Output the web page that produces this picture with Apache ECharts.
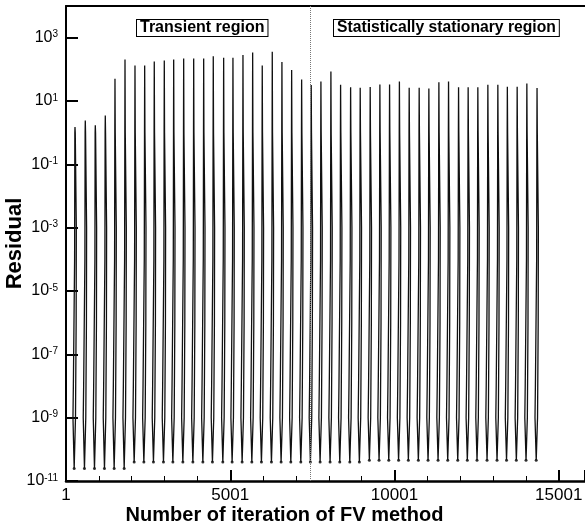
<!DOCTYPE html>
<html><head><meta charset="utf-8">
<script src="https://cdn.jsdelivr.net/npm/echarts@6/dist/echarts.min.js"></script>
<style>html,body{margin:0;padding:0;background:#fff}#c{width:585px;height:530px}</style>
</head><body><div id="c"></div>
<script>
// ---- data ----
// iteration at which each residual spike peaks
const spikeIter = [275,588,893,1197,1492,1797,2101,2396,2688,2993,3279,3583,3888,4192,4484,4800,
  5083,5388,5683,5975,6280,6574,6870,7174,7466,7761,8065,8360,8665,8957,9261,9556,
  9851,10150,10448,10752,11047,11352,11646,11951,12243,12538,12843,13147,13436,13735,14030,14340];
// peak residual of each spike
const spikePeak = [1.5,2.4,1.7,3.5,50,205,132,132,178,190,204,219,219,219,257,233,
  233,282,340,132,360,170,95,48,32,41.5,85,32.5,27,26,27.5,33,
  33,41,26,26,25,39,41,27,27,27,32.5,32.5,28,28,36,25.7];
// converged (floor) residual of each spike
const spikeFloor = [2.5e-11,2.5e-11,2.5e-11,2.5e-11,2.5e-11,2.5e-11,4e-11,4e-11,4e-11,4e-11,4e-11,4e-11,4e-11,4e-11,4e-11,4e-11,
  4e-11,4e-11,4e-11,4e-11,4e-11,4e-11,4e-11,4e-11,4e-11,4e-11,4e-11,4e-11,4e-11,4e-11,4.5e-11,4.5e-11,
  4.5e-11,4.5e-11,4.5e-11,4.5e-11,4.5e-11,4.5e-11,4.5e-11,4.5e-11,4.5e-11,4.5e-11,4.5e-11,4.5e-11,4.5e-11,4.5e-11,4.5e-11,4.5e-11];
// outline of one spike: [iteration offset from peak, residual level] ('P' = peak, 'B' = floor)
const spikeOutline = [[0,'P'],[-5,1e0],[-12,1e-4],[-50,1e-8],[-62,1e-9],[-25,'B'],[15,1e-9],[35,1e-6],[40,1e-3],[8,1e0],[0,'P']];
const xTickLabels = ['1','5001','10001','15001'];
const yTickExponents = [-11,-9,-7,-5,-3,-1,1,3];
const regionBoundary = 7450;
const regionNames = ['Transient region','Statistically stationary region'];

// ---- build series ----
const lineData = [];
spikeIter.forEach((p, i) => {
  spikeOutline.forEach(([dx, lv]) => {
    const v = lv === 'P' ? spikePeak[i] : (lv === 'B' ? spikeFloor[i] : lv);
    lineData.push([p + dx, v]);
  });
  lineData.push([p, '-']);
});
const floorData = spikeIter.map((p, i) => [p - 25, spikeFloor[i]]);

const FONT = '"Liberation Sans", Arial, Helvetica, sans-serif';
const chart = echarts.init(document.getElementById('c'), null, {renderer: 'canvas'});
chart.setOption({
  animation: false,
  backgroundColor: '#fff',
  grid: {left: 66, right: 0, top: 6, bottom: 49, containLabel: false, outerBoundsMode: 'none'},
  xAxis: [{
    type: 'value', min: 1, max: 15800, interval: 5000, position: 'bottom',
    axisLine: {show: true, onZero: false, lineStyle: {color: '#000', width: 2.5}},
    axisTick: {show: true, inside: true, length: 11, lineStyle: {color: '#000', width: 2}},
    minorTick: {show: true, splitNumber: 5, length: 5, lineStyle: {color: '#000', width: 1}},
    splitLine: {show: false}, minorSplitLine: {show: false},
    axisLabel: {color: '#000', fontSize: 17, fontFamily: FONT, margin: 6, showMaxLabel: false,
      formatter: v => (xTickLabels.indexOf(String(v)) >= 0 ? String(v) : '')},
    name: 'Number of iteration of FV method', nameLocation: 'middle', nameGap: 24, nameMoveOverlap: false,
    nameTextStyle: {color: '#000', fontSize: 20, fontWeight: 'bold', fontFamily: FONT, padding: [0, 82, 0, 0]}
  }, {
    type: 'value', min: 1, max: 15800, position: 'top',
    axisLine: {show: true, lineStyle: {color: '#000', width: 2}},
    axisTick: {show: false}, axisLabel: {show: false}, splitLine: {show: false}
  }],
  yAxis: {
    type: 'log', logBase: 10, min: 1e-11, max: 1e4, interval: 2,
    axisLine: {show: true, lineStyle: {color: '#000', width: 2}},
    axisTick: {show: true, inside: true, length: 12, lineStyle: {color: '#000', width: 2}},
    minorTick: {show: false}, splitLine: {show: false},
    axisLabel: {
      margin: 8, color: '#000',
      formatter: v => {
        const e = Math.round(Math.log10(v));
        return yTickExponents.indexOf(e) >= 0 ? '{b|10}{s|' + e + '}' : '';
      },
      rich: {
        b: {fontSize: 16, fontFamily: FONT, color: '#000'},
        s: {fontSize: 10, fontFamily: FONT, color: '#000', verticalAlign: 'top', padding: [0, 0, 0, 0]}
      }
    },
    name: 'Residual', nameLocation: 'middle', nameGap: 40, nameMoveOverlap: false,
    nameTextStyle: {color: '#000', fontSize: 22, fontWeight: 'bold', fontFamily: FONT}
  },
  series: [{
    type: 'line', data: lineData, showSymbol: false, symbol: 'none', connectNulls: false,
    lineStyle: {color: '#111', width: 1.3}, silent: true,
    markLine: {
      silent: true, symbol: ['none', 'none'], label: {show: false},
      lineStyle: {type: 'dotted', color: '#777', width: 1},
      data: [{xAxis: regionBoundary}]
    }
  }, {
    type: 'scatter', data: floorData, symbol: 'circle', symbolSize: 3,
    itemStyle: {color: '#000'}, silent: true
  }],
  graphic: [
    {type: 'text', left: 136, top: 19, z: 100, style: {text: regionNames[0], font: 'bold 16px ' + FONT, fill: '#000',
      backgroundColor: '#fff', borderColor: '#000', borderWidth: 1, padding: [0, 3, 0, 3]}},
    {type: 'text', left: 333, top: 19, z: 100, style: {text: regionNames[1], font: 'bold 15.7px ' + FONT, fill: '#000',
      backgroundColor: '#fff', borderColor: '#000', borderWidth: 1, padding: [0, 3, 0, 3]}}
  ]
});
</script></body></html>
